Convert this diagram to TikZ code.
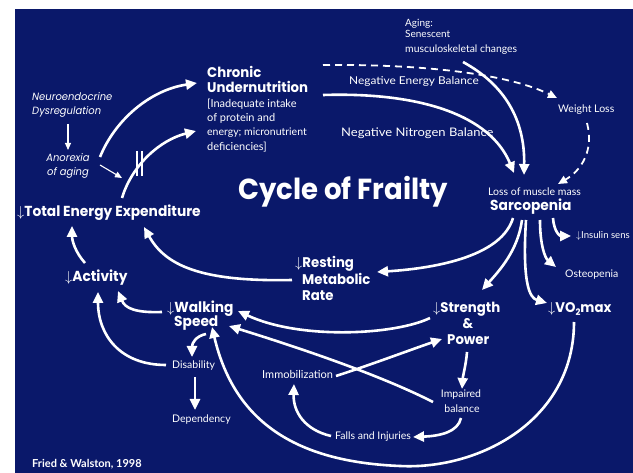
\documentclass[tikz,border=0pt]{standalone}
\usepackage{fontspec}
\usetikzlibrary{arrows.meta}
\newfontfamily\fut[FakeStretch=0.95]{Poppins}
\newfontfamily\gill{Lato}
\newfontfamily\gillw[FakeStretch=1.1]{Lato}
\definecolor{bgblue}{RGB}{10,24,106}
\newcommand{\dn}{$\downarrow$}
\tikzset{
  arr/.style={draw=white, line width=2.6pt, -{Triangle[length=11pt,width=10pt]}},
  thinarr/.style={draw=white, line width=1.1pt, -{Triangle[length=7pt,width=6pt]}},
  darr/.style={draw=white, line width=1.8pt, dash pattern=on 7pt off 5pt, -{Triangle[length=9pt,width=8pt]}},
  big/.style={text=white, inner sep=0pt, anchor=base west, font=\fut\bfseries\fontsize{14}{16}\selectfont},
  small/.style={text=white, inner sep=0pt, anchor=base west, font=\gill\fontsize{10.5}{12}\selectfont},
  ital/.style={text=white, inner sep=0pt, anchor=base west, font=\fut\itshape\fontsize{10.5}{12}\selectfont},
}
\begin{document}
\begin{tikzpicture}[x=1pt,y=-1pt]
\useasboundingbox (0,0) rectangle (633,473);
\fill[white] (0,0) rectangle (633,473);
\fill[bgblue] (15,9) rectangle (633,473);
% ---- texts
\node[ital] (dys1) at (32,101) {Neuroendocrine};
\node[ital] (dys2) at (32,115) {Dysregulation};
\node[ital, anchor=base] (ano1) at (68,162) {Anorexia};
\node[ital, anchor=base] (ano2) at (68,176) {of aging};
\node[big] (cu1) at (207,78) {Chronic};
\node[big] (cu2) at (207,93) {Undernutrition};
\node[small, font=\gill\fontsize{11}{12}\selectfont] (cud1) at (207,108) {[Inadequate intake};
\node[small, font=\gill\fontsize{11}{12}\selectfont] (cud2) at (207,122) {of protein and};
\node[small] (cud3) at (207,136) {energy; micronutrient};
\node[small, font=\gill\fontsize{11}{12}\selectfont] (cud4) at (207,150.5) {deficiencies]};
\node[small, font=\gillw\fontsize{10.8}{12}\selectfont] (neb) at (349,85) {Negative Energy Balance};
\node[small, font=\gillw\fontsize{11.8}{12}\selectfont] (nnb) at (341,137) {Negative Nitrogen Balance};
\node[small, font=\gill\fontsize{10}{12}\selectfont] (ag1) at (405,27) {Aging:};
\node[small, font=\gill\fontsize{10}{12}\selectfont] (ag2) at (405,38) {Senescent};
\node[small, font=\gill\fontsize{10.4}{12}\selectfont] (ag3) at (405,53) {musculoskeletal changes};
\node[small] (wl) at (558,113) {Weight Loss};
\node[small] (lmm) at (488,196) {Loss of muscle mass};
\node[big, font=\fut\bfseries\fontsize{14.5}{16}\selectfont] (sar) at (490,211) {Sarcopenia};
\node[big, font=\fut\bfseries\fontsize{29}{32}\selectfont] (title) at (238,200) {Cycle of Frailty};
\node[big, font=\fut\bfseries\fontsize{14.5}{16}\selectfont] (tee) at (17,217) {\dn Total Energy Expenditure};
\node[big, font=\fut\bfseries\fontsize{14.5}{16}\selectfont] (act) at (65,282) {\dn Activity};
\node[big, font=\fut\bfseries\fontsize{14.5}{16}\selectfont] (ws1) at (167,313) {\dn Walking};
\node[big, font=\fut\bfseries\fontsize{14.5}{16}\selectfont] (ws2) at (174,327) {Speed};
\node[big] (rmr1) at (295,268) {\dn Resting};
\node[big] (rmr2) at (302,285) {Metabolic};
\node[big] (rmr3) at (302,301) {Rate};
\node[big] (st1) at (433,313) {\dn Strength};
\node[big, anchor=base] (st2) at (468,329) {\&};
\node[big] (st3) at (447,345) {Power};
\node[big] (vo) at (548,313) {\dn VO\lower0.35ex\hbox{\fontsize{9}{10}\selectfont 2}max};
\node[small] (ost) at (565,278) {Osteopenia};
\node[small, font=\gill\fontsize{9.6}{11}\selectfont] (ins) at (576,239) {\dn Insulin sens};
\node[small, font=\gill\fontsize{11}{12}\selectfont] (imm) at (262,379) {Immobilization};
\node[small, anchor=base] (ib1) at (461,398) {Impaired};
\node[small, anchor=base] (ib2) at (462,413) {balance};
\node[small] (falls) at (335,440) {Falls and Injuries};
\node[small] (dis) at (172,369) {Disability};
\node[small] (dep) at (172,423) {Dependency};
\node[small, font=\gill\bfseries\fontsize{11}{12}\selectfont] (fw) at (32,468) {Fried \& Walston, 1998};
% ---- connector end points
\coordinate (dysS) at (68,124);  \coordinate (anoN) at (68,150);
\coordinate (anoE) at (100,165); \coordinate (barW) at (122,178);
\coordinate (anoNE) at (100,157); \coordinate (cuW) at (197,83);
\coordinate (teeN) at (122,198); \coordinate (cudW) at (196,131);
\coordinate (cuE1) at (323,65);  \coordinate (wlW) at (557,98);
\coordinate (cuE2) at (323,95);  \coordinate (sarN1) at (514,173);
\coordinate (agS) at (463,62);   \coordinate (sarN2) at (524,175);
\coordinate (wlS) at (587,123);  \coordinate (sarNE) at (558,184);
\coordinate (sarS1) at (513,218); \coordinate (rmrE) at (377,272);
\coordinate (sarS2) at (522,220); \coordinate (stN) at (482,290);
\coordinate (sarS3) at (526,220); \coordinate (voW) at (547,303);
\coordinate (sarS4) at (540,220); \coordinate (ostNW) at (556,267);
\coordinate (sarS5) at (553,218); \coordinate (insW) at (571,236);
\coordinate (rmrW) at (292,280); \coordinate (teeS2) at (144,227);
\coordinate (actN) at (85,263);  \coordinate (teeS1) at (72,226);
\coordinate (wsW) at (162,312);  \coordinate (actSE) at (118,291);
\coordinate (disW) at (166,365); \coordinate (actS) at (98,292);
\coordinate (wsS) at (206,334);  \coordinate (disN) at (192,357);
\coordinate (disS) at (195,377); \coordinate (depN) at (195,410);
\coordinate (stW) at (430,318);  \coordinate (wsE1) at (238,311);
\coordinate (ibW) at (433,402);  \coordinate (wsE2) at (229,326);
\coordinate (immE) at (336,376); \coordinate (powW) at (442,339);
\coordinate (powS) at (467,352); \coordinate (ibN) at (462,389);
\coordinate (ibS) at (461,418);  \coordinate (fallsE) at (413,437);
\coordinate (fallsW) at (331,436); \coordinate (immS) at (294,384);
\coordinate (voS) at (574,322);  \coordinate (wsS2) at (212,327);
% ---- connectors
\draw[thinarr] (dysS) -- (anoN);
\draw[thinarr] (anoE) -- (barW);
\draw[arr] (anoNE) .. controls (115,120) and (150,90) .. (cuW);
\draw[arr] (teeN) .. controls (132,165) and (160,140) .. (cudW);
\draw[white, line width=1.2pt] (137,151) -- (137,176) (142,151) -- (142,176);
\draw[darr] (cuE1) .. controls (430,64) and (510,75) .. (wlW);
\draw[arr] (cuE2) .. controls (420,92) and (490,115) .. (sarN1);
\draw[arr] (agS) .. controls (505,85) and (525,120) .. (sarN2);
\draw[darr] (wlS) .. controls (594,150) and (582,170) .. (sarNE);
\draw[arr] (sarS1) .. controls (502,255) and (440,268) .. (rmrE);
\draw[arr] (sarS2) .. controls (518,250) and (500,270) .. (stN);
\draw[arr] (sarS3) .. controls (522,285) and (530,298) .. (voW);
\draw[arr] (sarS4) .. controls (540,245) and (545,258) .. (ostNW);
\draw[arr] (sarS5) .. controls (554,232) and (560,236) .. (insW);
\draw[arr] (rmrW) .. controls (200,282) and (165,265) .. (teeS2);
\draw[arr] (actN) .. controls (75,252) and (72,240) .. (teeS1);
\draw[arr] (wsW) .. controls (135,313) and (125,308) .. (actSE);
\draw[arr] (disW) .. controls (120,365) and (98,335) .. (actS);
\draw[arr] (wsS) .. controls (196,336) and (192,343) .. (disN);
\draw[arr] (disS) -- (depN);
\draw[arr] (stW) .. controls (395,335) and (300,340) .. (wsE1);
\draw[arr] (ibW) .. controls (380,375) and (300,348) .. (wsE2);
\draw[arr] (immE) .. controls (370,365) and (410,350) .. (powW);
\draw[arr] (powS) .. controls (466,365) and (463,375) .. (ibN);
\draw[arr] (ibS) .. controls (458,432) and (440,436) .. (fallsE);
\draw[arr] (fallsW) .. controls (305,430) and (293,412) .. (immS);
\draw[arr] (voS) .. controls (574,420) and (480,470) .. (400,466) .. controls (300,462) and (235,425) .. (wsS2);
\end{tikzpicture}
\end{document}
